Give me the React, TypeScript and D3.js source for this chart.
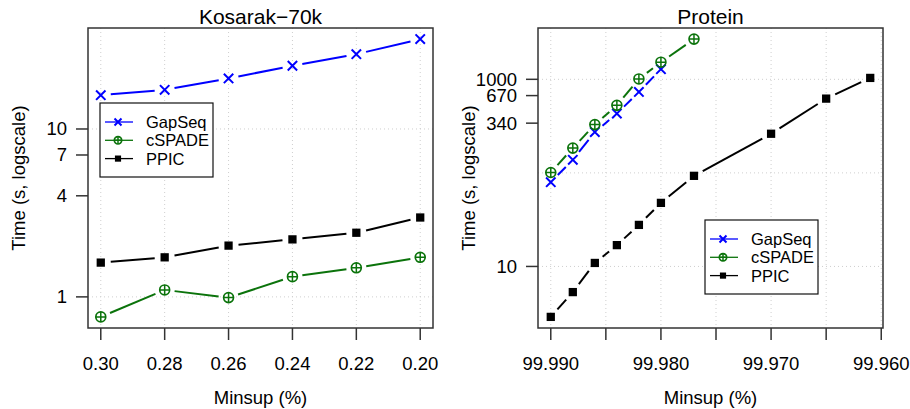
import React, { useEffect, useRef } from 'react';
import * as d3 from 'd3';

// Kosarak-70k panel
const kosarakMinsup = [0.30, 0.28, 0.26, 0.24, 0.22, 0.20];
const kosarakGapSeq = [15.9, 17.1, 20.0, 23.8, 27.9, 34.3];
const kosarakCSpade = [0.76, 1.10, 0.99, 1.32, 1.49, 1.72];
const kosarakPpic = [1.60, 1.72, 2.02, 2.20, 2.41, 2.97];
const kosarakYTicks = [1, 4, 7, 10];
const kosarakYGrid = [1, 10];

// Protein panel
const proteinMinsupGapSeq = [99.990, 99.988, 99.986, 99.984, 99.982, 99.980];
const proteinGapSeq = [79.5, 138, 273, 430, 733, 1283];
const proteinMinsupCSpade = [99.990, 99.988, 99.986, 99.984, 99.982, 99.980, 99.977];
const proteinCSpade = [101, 184, 328, 527, 1010, 1525, 2690];
const proteinMinsupPpic = [99.990, 99.988, 99.986, 99.984, 99.982, 99.980, 99.977, 99.970, 99.965, 99.961];
const proteinPpic = [2.89, 5.32, 10.9, 16.9, 27.8, 47.8, 93, 262, 622, 1035];
const proteinXTicks = [99.990, 99.985, 99.980, 99.975, 99.970, 99.965, 99.960];
const proteinXLabels = [99.990, 99.980, 99.970, 99.960];
const proteinYTicks = [10, 340, 670, 1000];
const proteinYGrid = [10, 100, 1000];

const seriesNames = ['GapSeq', 'cSPADE', 'PPIC'];
const seriesColors = ['#0000ff', '#0b730b', '#000000'];
const seriesShapes = ['cross', 'circleplus', 'square'];

const FONT = '"Liberation Sans", Arial, Helvetica, sans-serif';
const FRAME = '#333333';
const AXIS_SIZE = 18.5;

// extend a range by 4% on both sides, like R does
function extend(lo: number, hi: number) {
  const d = (hi - lo) * 0.04;
  return [lo - d, hi + d];
}

function drawMarker(g: any, shape: string, x: number, y: number, color: string, s: number) {
  if (shape === 'cross') {
    g.append('path')
      .attr('d', `M${x - s},${y - s}L${x + s},${y + s}M${x - s},${y + s}L${x + s},${y - s}`)
      .attr('stroke', color).attr('stroke-width', 2).attr('fill', 'none');
  } else if (shape === 'circleplus') {
    const r = s * 1.05;
    g.append('circle').attr('cx', x).attr('cy', y).attr('r', r)
      .attr('stroke', color).attr('stroke-width', 1.7).attr('fill', 'none');
    g.append('path')
      .attr('d', `M${x - r},${y}L${x + r},${y}M${x},${y - r}L${x},${y + r}`)
      .attr('stroke', color).attr('stroke-width', 1.5);
  } else {
    const h = s * 0.88;
    g.append('rect').attr('x', x - h).attr('y', y - h).attr('width', 2 * h).attr('height', 2 * h)
      .attr('fill', color);
  }
}

function drawPanel(svg: any, cfg: any) {
  const { left, right, top, bottom } = cfg;
  const x = d3.scaleLinear().domain(cfg.xDomain).range([left, right]);
  const y = d3.scaleLog().domain(cfg.yDomain).range([bottom, top]);
  const g = svg.append('g');

  // grid
  g.selectAll('.vgrid').data(cfg.xGrid).enter().append('line')
    .attr('x1', (d: number) => x(d)).attr('x2', (d: number) => x(d))
    .attr('y1', top).attr('y2', bottom)
    .attr('stroke', '#cfcfcf').attr('stroke-dasharray', '1,3');
  g.selectAll('.hgrid').data(cfg.yGrid).enter().append('line')
    .attr('x1', left).attr('x2', right)
    .attr('y1', (d: number) => y(d)).attr('y2', (d: number) => y(d))
    .attr('stroke', '#cfcfcf').attr('stroke-dasharray', '1,3');

  // series, type = "b": segments with gaps around the points
  cfg.series.forEach((s: any, i: number) => {
    const pts = s.xs.map((v: number, k: number) => [x(v), y(s.ys[k])]);
    for (let k = 0; k < pts.length - 1; k++) {
      const [x0, y0] = pts[k];
      const [x1, y1] = pts[k + 1];
      const len = Math.hypot(x1 - x0, y1 - y0);
      const gap = 10;
      if (len <= 2 * gap) continue;
      const ux = (x1 - x0) / len, uy = (y1 - y0) / len;
      g.append('line')
        .attr('x1', x0 + ux * gap).attr('y1', y0 + uy * gap)
        .attr('x2', x1 - ux * gap).attr('y2', y1 - uy * gap)
        .attr('stroke', seriesColors[i]).attr('stroke-width', 2);
    }
    pts.forEach((p: number[]) => drawMarker(g, seriesShapes[i], p[0], p[1], seriesColors[i], 4.7));
  });

  // frame
  g.append('rect').attr('x', left).attr('y', top).attr('width', right - left).attr('height', bottom - top)
    .attr('fill', 'none').attr('stroke', FRAME).attr('stroke-width', 1.5);

  // x axis
  g.selectAll('.xtick').data(cfg.xTicks).enter().append('line')
    .attr('x1', (d: number) => x(d)).attr('x2', (d: number) => x(d))
    .attr('y1', bottom).attr('y2', bottom + 12)
    .attr('stroke', FRAME).attr('stroke-width', 1.5);
  g.selectAll('.xlab').data(cfg.xLabels).enter().append('text')
    .attr('x', (d: number) => x(d)).attr('y', bottom + 42)
    .attr('text-anchor', 'middle').attr('font-size', AXIS_SIZE).attr('font-family', FONT)
    .text((d: number) => d3.format(cfg.xFormat)(d));

  // y axis
  g.selectAll('.ytick').data(cfg.yTicks).enter().append('line')
    .attr('x1', left - 12).attr('x2', left)
    .attr('y1', (d: number) => y(d)).attr('y2', (d: number) => y(d))
    .attr('stroke', FRAME).attr('stroke-width', 1.5);
  g.selectAll('.ylab').data(cfg.yTicks).enter().append('text')
    .attr('x', left - 21).attr('y', (d: number) => y(d) + 6.5)
    .attr('text-anchor', 'end').attr('font-size', AXIS_SIZE).attr('font-family', FONT)
    .text((d: number) => String(d));

  // titles
  const cx = (left + right) / 2;
  g.append('text').attr('x', cx).attr('y', 24).attr('text-anchor', 'middle')
    .attr('font-size', 21).attr('font-family', FONT).text(cfg.title);
  g.append('text').attr('x', cx).attr('y', 404).attr('text-anchor', 'middle')
    .attr('font-size', AXIS_SIZE).attr('font-family', FONT).text('Minsup (%)');
  g.append('text')
    .attr('transform', `translate(${left - 63},${(top + bottom) / 2}) rotate(-90)`)
    .attr('text-anchor', 'middle').attr('font-size', AXIS_SIZE).attr('font-family', FONT)
    .text('Time (s, logscale)');

  // legend
  const lg = cfg.legend;
  g.append('rect').attr('x', lg.x).attr('y', lg.y).attr('width', 113).attr('height', 74)
    .attr('fill', 'white').attr('stroke', '#111').attr('stroke-width', 1.2);
  seriesNames.forEach((name, i) => {
    const ly = lg.y + 19 + i * 18.3;
    g.append('line').attr('x1', lg.x + 5).attr('x2', lg.x + 33).attr('y1', ly).attr('y2', ly)
      .attr('stroke', seriesColors[i]).attr('stroke-width', 1.3);
    drawMarker(g, seriesShapes[i], lg.x + 18, ly, seriesColors[i], 3.5);
    g.append('text').attr('x', lg.x + 46).attr('y', ly + 6)
      .attr('font-size', 16.5).attr('font-family', FONT).text(name);
  });
}

export default function App() {
  const ref = useRef<SVGSVGElement>(null);

  useEffect(() => {
    const svg = d3.select(ref.current);
    svg.selectAll('*').remove();

    const kAll = kosarakGapSeq.concat(kosarakCSpade, kosarakPpic);
    const kLog = extend(Math.log10(d3.min(kAll)!), Math.log10(d3.max(kAll)!));
    drawPanel(svg, {
      left: 88, right: 433, top: 28, bottom: 328,
      xDomain: extend(0.20, 0.30).reverse(),
      yDomain: kLog.map(v => Math.pow(10, v)),
      xTicks: kosarakMinsup, xLabels: kosarakMinsup, xGrid: kosarakMinsup, xFormat: '.2f',
      yTicks: kosarakYTicks, yGrid: kosarakYGrid,
      title: 'Kosarak\u221270k',
      series: [
        { xs: kosarakMinsup, ys: kosarakGapSeq },
        { xs: kosarakMinsup, ys: kosarakCSpade },
        { xs: kosarakMinsup, ys: kosarakPpic },
      ],
      legend: { x: 100, y: 103 },
    });

    const pAll = proteinGapSeq.concat(proteinCSpade, proteinPpic);
    const pLog = extend(Math.log10(d3.min(pAll)!), Math.log10(d3.max(pAll)!));
    const pX = d3.extent(proteinMinsupPpic) as [number, number];
    drawPanel(svg, {
      left: 538, right: 883, top: 28, bottom: 328,
      xDomain: extend(pX[0], pX[1]).reverse(),
      yDomain: pLog.map(v => Math.pow(10, v)),
      xTicks: proteinXTicks, xLabels: proteinXLabels, xGrid: proteinXTicks, xFormat: '.3f',
      yTicks: proteinYTicks, yGrid: proteinYGrid,
      title: 'Protein',
      series: [
        { xs: proteinMinsupGapSeq, ys: proteinGapSeq },
        { xs: proteinMinsupCSpade, ys: proteinCSpade },
        { xs: proteinMinsupPpic, ys: proteinPpic },
      ],
      legend: { x: 705, y: 220 },
    });
  }, []);

  return (
    <svg ref={ref} width={910} height={409}
      style={{ position: 'absolute', left: 0, top: 0, background: 'white' }} />
  );
}
